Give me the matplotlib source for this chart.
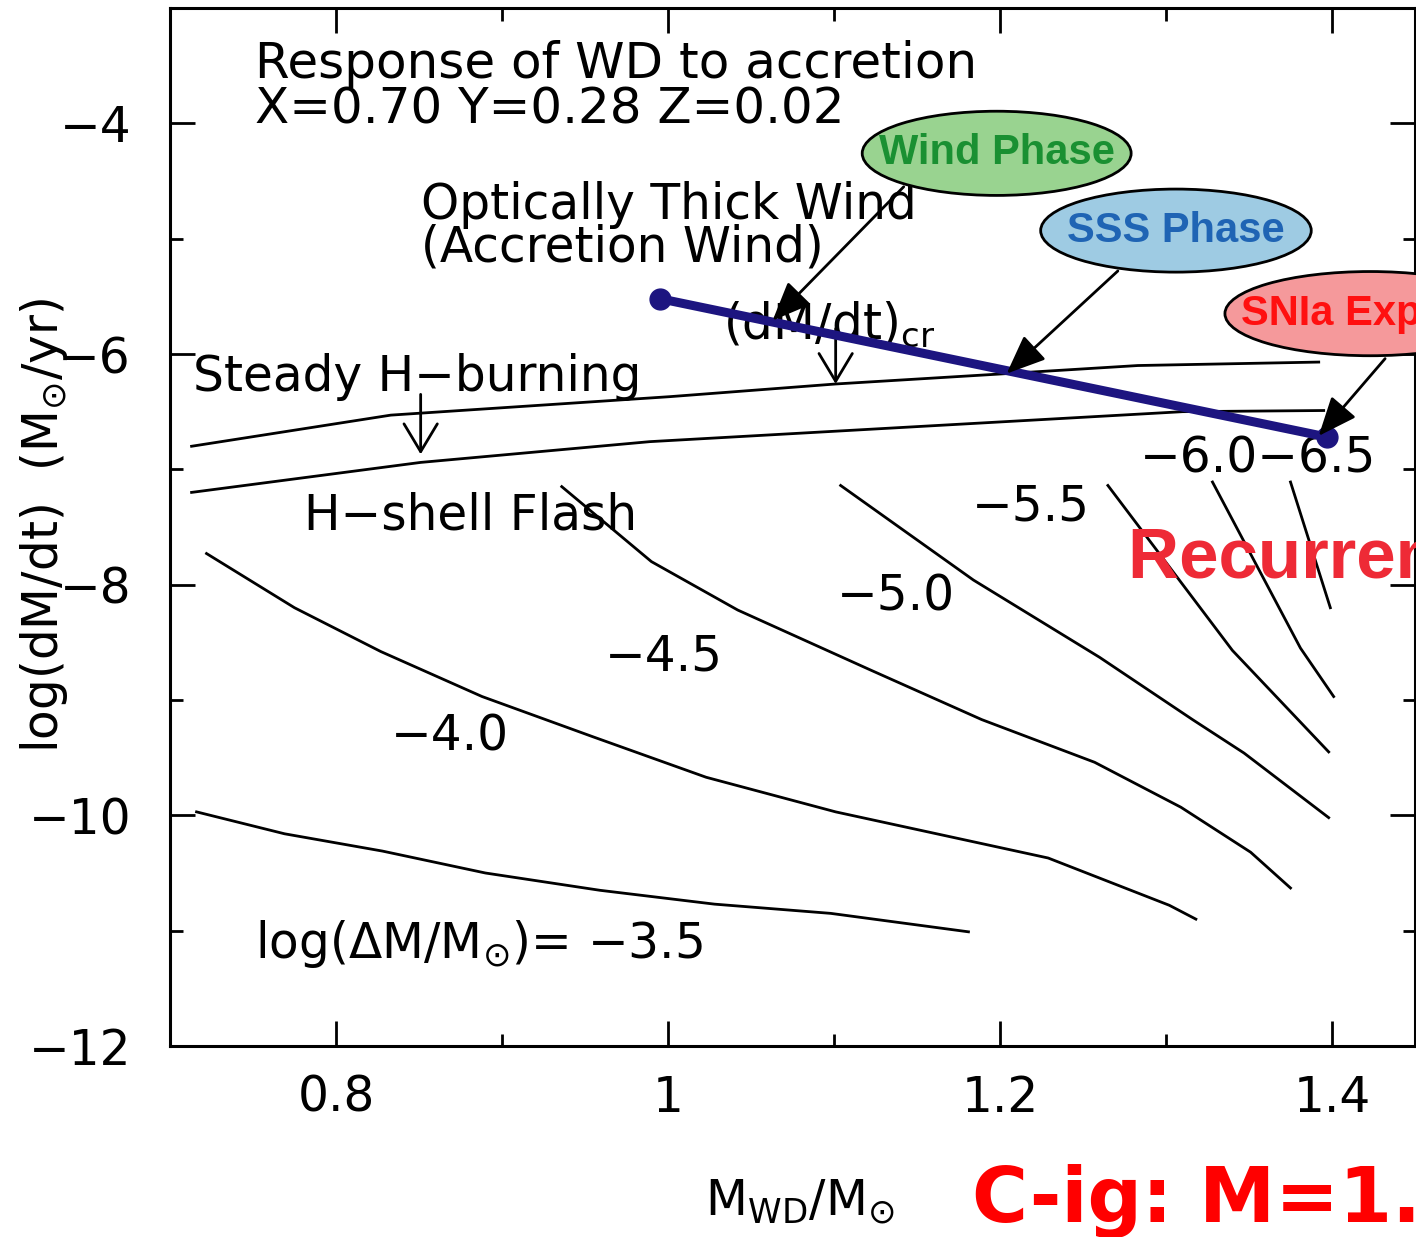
import matplotlib
matplotlib.use("Agg")
import matplotlib.pyplot as plt
from matplotlib.patches import Ellipse

# boundaries of the steady H-burning strip
upper_x = [0.713, 0.833, 1.001, 1.101, 1.204, 1.283, 1.392]
upper_y = [-6.80, -6.53, -6.37, -6.26, -6.17, -6.10, -6.07]
lower_x = [0.713, 0.851, 0.989, 1.310, 1.395]
lower_y = [-7.20, -6.94, -6.76, -6.50, -6.49]

# critical accretion rate (dM/dt)_cr
cr_x = [0.995, 1.397]
cr_y = [-5.52, -6.72]

# ignition mass contours, log(dM/Msun)
c35_x = [0.716, 0.769, 0.828, 0.890, 0.959, 1.028, 1.098, 1.181]
c35_y = [-9.97, -10.16, -10.31, -10.50, -10.65, -10.77, -10.85, -11.01]
c40_x = [0.722, 0.775, 0.827, 0.888, 0.955, 1.023, 1.101, 1.229, 1.302, 1.318]
c40_y = [-7.73, -8.20, -8.58, -8.97, -9.32, -9.67, -9.97, -10.37, -10.78, -10.90]
c45_x = [0.936, 0.990, 1.042, 1.122, 1.189, 1.257, 1.309, 1.351, 1.375]
c45_y = [-7.15, -7.80, -8.22, -8.74, -9.17, -9.54, -9.93, -10.32, -10.63]
c50_x = [1.104, 1.184, 1.260, 1.316, 1.347, 1.398]
c50_y = [-7.14, -7.96, -8.63, -9.17, -9.46, -10.02]
c55_x = [1.265, 1.340, 1.398]
c55_y = [-7.14, -8.57, -9.45]
c60_x = [1.328, 1.381, 1.401]
c60_y = [-7.11, -8.55, -8.97]
c65_x = [1.375, 1.399]
c65_y = [-7.11, -8.20]

contour_labels = ["\u22124.0", "\u22124.5", "\u22125.0", "\u22125.5", "\u22126.0\u22126.5"]
label_x = [0.833, 0.962, 1.102, 1.183, 1.284]
label_y = [-9.44, -8.74, -8.22, -7.44, -7.03]

xticks = [0.8, 1.0, 1.2, 1.4]
xtick_labels = ["0.8", "1", "1.2", "1.4"]
yticks = [-4, -6, -8, -10, -12]
ytick_labels = ["\u22124", "\u22126", "\u22128", "\u221210", "\u221212"]

plt.rcParams["font.family"] = ["DejaVu Sans"]
plt.rcParams["mathtext.fontset"] = "dejavusans"

fig = plt.figure(figsize=(14.16, 12.37), dpi=100)
ax = fig.add_axes([170 / 1416, 1 - 1046 / 1237, 1245 / 1416, 1038 / 1237])
ax.set_xlim(0.7, 1.45)
ax.set_ylim(-12, -3)

for s in ax.spines.values():
    s.set_linewidth(2.2)

ax.set_xticks(xticks)
ax.set_xticklabels(xtick_labels, fontsize=35)
ax.set_xticks([0.9, 1.1, 1.3], minor=True)
ax.set_yticks(yticks)
ax.set_yticklabels(ytick_labels, fontsize=35)
ax.set_yticks([-5, -7, -9, -11], minor=True)
ax.tick_params(which="both", direction="in", top=True, right=True, width=2)
ax.tick_params(which="major", length=18)
ax.tick_params(which="minor", length=9)
ax.tick_params(axis="x", pad=20)
ax.tick_params(axis="y", pad=28)

# lines
ax.plot(upper_x, upper_y, color="k", lw=2)
ax.plot(lower_x, lower_y, color="k", lw=2)
for cx, cy in [(c35_x, c35_y), (c40_x, c40_y), (c45_x, c45_y), (c50_x, c50_y),
               (c55_x, c55_y), (c60_x, c60_y), (c65_x, c65_y)]:
    ax.plot(cx, cy, color="k", lw=2)

for t, x, y in zip(contour_labels, label_x, label_y):
    ax.text(x, y, t, fontsize=35, va="baseline")
ax.text(0.751, -11.24, "log(\u0394M/M$_{\u2299}$)= \u22123.5", fontsize=35,
        va="baseline")

# region labels
ax.text(0.751, -3.61, "Response of WD to accretion", fontsize=36, va="baseline")
ax.text(0.751, -4.0, "X=0.70 Y=0.28 Z=0.02", fontsize=36, va="baseline")
ax.text(0.851, -4.83, "Optically Thick Wind", fontsize=35, va="baseline")
ax.text(0.851, -5.20, "(Accretion Wind)", fontsize=35, va="baseline")
ax.text(1.033, -5.87, r"(dM/dt)$_{\rm cr}$", fontsize=35, va="baseline")
ax.text(0.714, -6.32, "Steady H\u2212burning", fontsize=35, va="baseline")
ax.text(0.781, -7.52, "H\u2212shell Flash", fontsize=35, va="baseline")

# small down arrows
for ax_x, y0, y1 in [(0.851, -6.35, -6.87), (1.101, -5.78, -6.26)]:
    ax.annotate("", xy=(ax_x, y1), xytext=(ax_x, y0),
                arrowprops=dict(arrowstyle="->,head_length=0.5,head_width=0.3",
                                color="k", lw=2, mutation_scale=40,
                                shrinkA=0, shrinkB=0))

# critical rate line
ax.plot(cr_x, cr_y, color="#1d1580", lw=6.5, marker="o", markersize=15,
        solid_capstyle="round", zorder=4)

# phase bubbles
bubbles = [
    ("Wind Phase", 1.198, -4.26, 0.162, 0.73, "#99d390", "#1a9032"),
    ("SSS Phase", 1.306, -4.93, 0.163, 0.72, "#9ecbe3", "#1f64b4"),
    ("SNIa Explosion", 1.423, -5.65, 0.175, 0.73, "#f5999b", "#ff1010"),
]
arrow_from = [(1.142, -4.55), (1.271, -5.28), (1.432, -6.04)]
arrow_to = [(1.063, -5.71), (1.204, -6.17), (1.392, -6.71)]
for (start, tip) in zip(arrow_from, arrow_to):
    ax.annotate("", xy=tip, xytext=start,
                arrowprops=dict(arrowstyle="-|>,head_length=0.6,head_width=0.25",
                                color="k", lw=2, mutation_scale=40,
                                shrinkA=0, shrinkB=0), zorder=6)
for name, x, y, w, h, fc, tc in bubbles:
    ax.add_patch(Ellipse((x, y), w, h, facecolor=fc, edgecolor="k", lw=2,
                         clip_on=False, zorder=7))
    if name.startswith("SNIa"):
        ax.text(1.345, y, name, fontsize=30, fontweight="bold", color=tc,
                fontfamily="Liberation Sans", ha="left", va="center",
                zorder=8, clip_on=False)
    else:
        ax.text(x, y, name, fontsize=30, fontweight="bold", color=tc,
                fontfamily="Liberation Sans", ha="center", va="center", zorder=8)

ax.text(1.277, -7.94, "Recurrent Nova", fontsize=51, fontweight="bold",
        color="#ee2a36", fontfamily="Liberation Sans", va="baseline", zorder=8)

# axis labels
ax.set_xlabel("M$_{\\rm WD}$/M$_{\u2299}$", fontsize=35)
ax.xaxis.set_label_coords(0.506, -0.127)
ax.set_ylabel("log(dM/dt)  (M$_{\u2299}$/yr)", fontsize=35)
ax.yaxis.set_label_coords(-0.080, 0.502)

fig.text(972 / 1416, 1 - 1222 / 1237, "C-ig: M=1.38", fontsize=55,
         fontweight="bold", color="#ff0000", ha="left", va="baseline")

fig.savefig("out.png", dpi=100)
